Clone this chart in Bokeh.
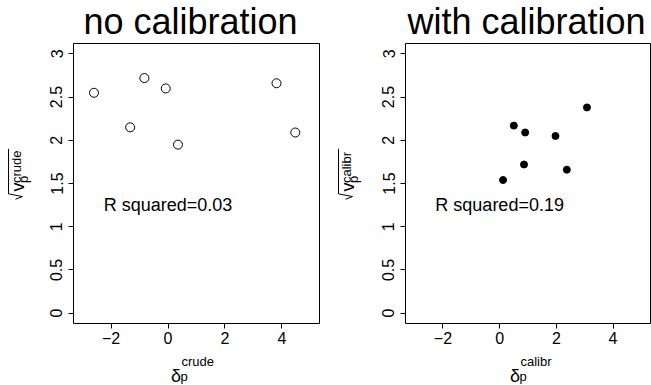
from math import pi
from bokeh.plotting import figure
from bokeh.layouts import row, column
from bokeh.models import FixedTicker, Range1d
from bokeh.core.properties import value
from bokeh.embed import file_html
from bokeh.resources import INLINE

# ---------------- data ----------------
crude_delta = [-2.60, -1.33, -0.83, -0.08, 0.35, 3.81, 4.47]
crude_sqrtv = [2.55, 2.15, 2.72, 2.60, 1.95, 2.66, 2.09]
calibr_delta = [0.12, 0.50, 0.90, 0.86, 1.97, 2.37, 3.08]
calibr_sqrtv = [1.54, 2.17, 2.09, 1.72, 2.05, 1.66, 2.38]

titles = ["no calibration", "with calibration"]
r_squared_text = ["R squared=0.03", "R squared=0.19"]
r_squared_pos = (0.0, 1.25)
superscripts = ["crude", "calibr"]

x_limits = (-3, 5)
y_limits = (0, 3)
x_ticks = [-2, 0, 2, 4]
x_tick_labels = ["\u22122", "0", "2", "4"]
y_ticks = [0, 0.5, 1, 1.5, 2, 2.5, 3]
y_tick_labels = ["0", "0.5", "1", "1.5", "2", "2.5", "3"]

FONT = "Liberation Sans"


def ext(lim):
    d = (lim[1] - lim[0]) * 0.04
    return (lim[0] - d, lim[1] + d)


XR = ext(x_limits)
YR = ext(y_limits)

# layout geometry (pixels)
TITLE_H = 42
MAIN_TOP, FRAME_H, MAIN_BOT = 1, 280, 30
MAIN_H = MAIN_TOP + FRAME_H + MAIN_BOT
XLAB_H = 32
YLAB_W = 36
BASE_FIX = 0.25  # baseline correction (fraction of font size)


def blank(w, h):
    f = figure(width=w, height=h, x_range=Range1d(0, w), y_range=Range1d(0, h),
               min_border=0, x_axis_location=None, y_axis_location=None,
               output_backend="svg", toolbar_location=None, title=None,
               background_fill_color="white", border_fill_color="white")
    f.xgrid.visible = False
    f.ygrid.visible = False
    f.outline_line_color = None
    return f


def txt(f, ox, oy, h, px, py, s, size, align="left", angle=0.0):
    fix = BASE_FIX * size
    if angle:
        px -= fix
    else:
        py -= fix
    f.text(x=[px - ox], y=[h - (py - oy)], text=[s], text_font=value(FONT),
           text_font_size=value(f"{size}px"), text_align=align, text_baseline="alphabetic",
           text_color="black", angle=angle)


def main_fig(xs, ys, filled, rtext, mbl, fw, mbr):
    p = figure(frame_width=fw, frame_height=FRAME_H, x_range=XR, y_range=YR,
               min_border_left=mbl, min_border_right=mbr,
               min_border_top=MAIN_TOP, min_border_bottom=MAIN_BOT, title=None,
               output_backend="svg", toolbar_location=None,
               background_fill_color="white", border_fill_color="white")
    p.xgrid.visible = False
    p.ygrid.visible = False
    p.outline_line_color = "black"
    p.outline_line_width = 1
    p.xaxis.ticker = FixedTicker(ticks=x_ticks)
    p.yaxis.ticker = FixedTicker(ticks=y_ticks)
    p.xaxis.major_label_overrides = {k: v for k, v in zip(x_ticks, x_tick_labels)}
    p.yaxis.major_label_overrides = {k: v for k, v in zip(y_ticks, y_tick_labels)}
    for ax in (p.xaxis[0], p.yaxis[0]):
        ax.axis_line_color = None
        ax.major_tick_line_color = "black"
        ax.major_tick_out = 5
        ax.major_tick_in = 0
        ax.minor_tick_line_color = None
        ax.major_label_text_font = FONT
        ax.major_label_text_font_size = "16px"
        ax.major_label_text_color = "black"
    p.yaxis.major_label_orientation = "vertical"
    p.yaxis.major_label_standoff = 6
    p.xaxis.major_label_standoff = 3
    if filled:
        p.scatter(xs, ys, size=7, fill_color="black", line_color="black")
    else:
        p.scatter(xs, ys, size=9, fill_color=None, line_color="black", line_width=1)
    p.text(x=[r_squared_pos[0]], y=[r_squared_pos[1]], text=[rtext], text_font=value(FONT),
           text_font_size=value("18px"), text_align="center", text_baseline="middle",
           text_color="black")
    return p


def panel(xs, ys, filled, idx, x0, mbl, fw, mbr, title_cx, dx_delta, dx_sup):
    width = YLAB_W + mbl + fw + mbr
    # title
    t = blank(width, TITLE_H)
    txt(t, x0, 0, TITLE_H, title_cx, 29.5, titles[idx], 36, align="center")
    # y label  sqrt(v_p^sup)
    yl = blank(YLAB_W, MAIN_H)
    oy = TITLE_H
    d = x0
    txt(yl, x0, oy, MAIN_H, d + 22, 206.5, "v", 18, angle=pi / 2)
    txt(yl, x0, oy, MAIN_H, d + 19, 197, superscripts[idx], 13, angle=pi / 2)
    txt(yl, x0, oy, MAIN_H, d + 26.5, 197, "p", 13, angle=pi / 2)
    rad_x = [d + 15, d + 22, d + 8, d + 8]
    rad_y = [215, 212, 209, 159]
    yl.line([px - x0 for px in rad_x], [MAIN_H - (py - oy) for py in rad_y],
            line_color="black", line_width=1)
    # main plot
    m = main_fig(xs, ys, filled, r_squared_text[idx], mbl, fw, mbr)
    # x label  delta_p^sup
    xo = TITLE_H + MAIN_H
    xl = blank(width, XLAB_H)
    txt(xl, x0, xo, XLAB_H, dx_delta, 379.5, "\u03b4", 18)
    txt(xl, x0, xo, XLAB_H, dx_sup, 364, superscripts[idx], 13)
    txt(xl, x0, xo, XLAB_H, dx_sup - 1, 379, "p", 13)
    return column(t, row(yl, m), xl)


left = panel(crude_delta, crude_sqrtv, False, 0, 0, 37, 246, 11,
             title_cx=190, dx_delta=170.5, dx_sup=181)
right = panel(calibr_delta, calibr_sqrtv, True, 1, 330, 39, 245, 1,
              title_cx=526, dx_delta=509.5, dx_sup=520)

layout = row(left, right)
open("out.html", "w").write(file_html(layout, INLINE))
